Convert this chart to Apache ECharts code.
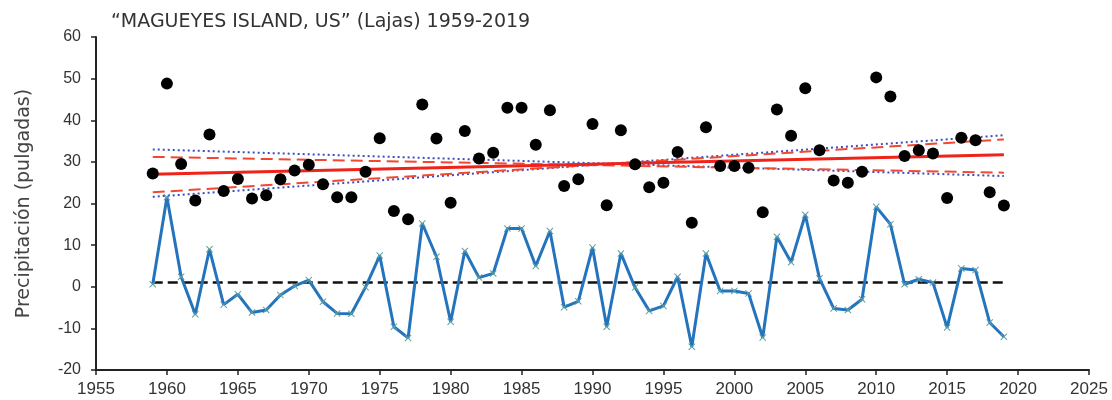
<!DOCTYPE html>
<html>
<head>
<meta charset="utf-8">
<script src="https://cdn.jsdelivr.net/npm/echarts@6/dist/echarts.min.js"></script>
<style>
  html, body { margin: 0; padding: 0; background: #fff; }
  #chart { width: 1112px; height: 400px; }
</style>
</head>
<body>
<div id="chart"></div>
<script>
// Annual precipitation, Magueyes Island (Lajas), 1959-2019
const years = [
  1959, 1960, 1961, 1962, 1963, 1964, 1965, 1966, 1967, 1968,
  1969, 1970, 1971, 1972, 1973, 1974, 1975, 1976, 1977, 1978,
  1979, 1980, 1981, 1982, 1983, 1984, 1985, 1986, 1987, 1988,
  1989, 1990, 1991, 1992, 1993, 1994, 1995, 1996, 1997, 1998,
  1999, 2000, 2001, 2002, 2003, 2004, 2005, 2006, 2007, 2008,
  2009, 2010, 2011, 2012, 2013, 2014, 2015, 2016, 2017, 2018, 2019
];

// Total precipitation (inches)
const precip = [
  27.2, 48.8, 29.5, 20.7, 36.6, 23.0, 25.9, 21.2, 22.0, 25.8,
  27.9, 29.3, 24.6, 21.5, 21.5, 27.6, 35.7, 18.2, 16.2, 43.8,
  35.6, 20.2, 37.4, 30.8, 32.2, 43.0, 43.0, 34.1, 42.4, 24.2,
  25.8, 39.1, 19.6, 37.6, 29.4, 23.9, 25.0, 32.4, 15.4, 38.3,
  29.0, 29.0, 28.6, 17.9, 42.6, 36.3, 47.7, 32.8, 25.5, 25.0,
  27.6, 50.3, 45.7, 31.4, 32.8, 32.0, 21.3, 35.8, 35.2, 22.7, 19.5
];

// Departure from the trend (inches)
const residual = [
  0.6, 21.5, 2.4, -6.6, 9.0, -4.3, -1.8, -6.2, -5.6, -2.0,
  0.2, 1.6, -3.6, -6.4, -6.5, -0.1, 7.5, -9.6, -12.3, 15.2,
  7.2, -8.4, 8.6, 2.2, 3.2, 14.0, 14.0, 5.0, 13.4, -4.9,
  -3.5, 9.4, -9.6, 8.0, -0.2, -5.8, -4.6, 2.4, -14.4, 8.0,
  -1.0, -1.0, -1.6, -12.2, 12.0, 5.9, 17.3, 2.0, -5.2, -5.6,
  -3.0, 19.2, 15.0, 0.6, 1.8, 1.0, -9.8, 4.4, 4.0, -8.6, -12.0
];

// Reference level of the departures
const residualMean = [1.0, 1.0];

// Linear trend and its bounds, values at the first and last year
const lineYears = [1959, 2019];
const trend = [27.0, 31.7];
const trendLowA = [31.2, 27.4];
const trendLowB = [22.7, 35.4];
const boundA = [33.0, 26.6];
const boundB = [21.6, 36.4];

// Axis settings
const xMin = 1955, xMax = 2025, xStep = 5;
const yMin = -20, yMax = 60, yStep = 10;

const titleText = '\u201CMAGUEYES ISLAND, US\u201D (Lajas) 1959-2019';
const yName = 'Precipitación (pulgadas)';

const pair = (xs, ys) => xs.map((x, i) => [x, ys[i]]);

const crossPath = 'path://M0,1L1,0L5,4L9,0L10,1L6,5L10,9L9,10L5,6L1,10L0,9L4,5Z';

const segment = (name, vals, color, width, type, z) => ({
  name: name,
  type: 'line',
  data: pair(lineYears, vals),
  symbol: 'none',
  silent: true,
  z: z,
  lineStyle: { color: color, width: width, type: type }
});

const chart = echarts.init(document.getElementById('chart'), null, { renderer: 'canvas' });

chart.setOption({
  animation: false,
  backgroundColor: '#ffffff',
  title: {
    text: titleText,
    left: 106,
    top: 8,
    textStyle: {
      fontFamily: 'DejaVu Sans, Liberation Sans, sans-serif',
      fontSize: 19,
      fontWeight: 'normal',
      color: '#333333'
    }
  },
  grid: { left: 96, right: 23, top: 37, bottom: 30, containLabel: false },
  xAxis: {
    type: 'value',
    min: xMin, max: xMax, interval: xStep,
    axisLine: { show: true, onZero: false, lineStyle: { color: '#222', width: 2 } },
    axisTick: { show: true, inside: false, length: 5, lineStyle: { color: '#222', width: 1.5 } },
    splitLine: { show: false },
    axisLabel: {
      margin: 11,
      fontFamily: 'Liberation Sans Narrow, Arial Narrow, Liberation Sans, sans-serif',
      fontSize: 17,
      color: '#333333',
      formatter: v => String(v)
    }
  },
  yAxis: {
    type: 'value',
    min: yMin, max: yMax, interval: yStep,
    name: yName,
    nameLocation: 'middle',
    nameGap: 62,
    nameTextStyle: {
      fontFamily: 'DejaVu Sans, Liberation Sans, sans-serif',
      fontSize: 19,
      color: '#444444'
    },
    axisLine: { show: true, onZero: false, lineStyle: { color: '#222', width: 2 } },
    axisTick: { show: true, inside: false, length: 5, lineStyle: { color: '#222', width: 1.5 } },
    splitLine: { show: false },
    axisLabel: {
      margin: 15,
      fontFamily: 'Liberation Sans, Arial, sans-serif',
      fontSize: 16,
      color: '#333333'
    }
  },
  series: [
    {
      name: 'Media residual',
      type: 'line',
      data: pair(lineYears, residualMean),
      symbol: 'none',
      silent: true,
      z: 3,
      lineStyle: { color: '#111', width: 2.5, type: [10, 5] }
    },
    {
      name: 'Residuo',
      type: 'line',
      data: pair(years, residual),
      symbol: crossPath,
      symbolSize: 7,
      showAllSymbol: true,
      z: 4,
      lineStyle: { color: '#2474bd', width: 3 },
      itemStyle: { color: '#5c9ea0' }
    },
    segment('Límite A', boundA, '#3b4fc0', 2, [2, 3], 5),
    segment('Límite B', boundB, '#3b4fc0', 2, [2, 3], 5),
    segment('Confianza A', trendLowA, '#f2482f', 2, [12, 6], 6),
    segment('Confianza B', trendLowB, '#f2482f', 2, [12, 6], 6),
    segment('Tendencia', trend, '#f0231a', 3, 'solid', 7),
    {
      name: 'Precipitación',
      type: 'scatter',
      data: pair(years, precip),
      symbol: 'circle',
      symbolSize: 12,
      z: 10,
      itemStyle: { color: '#000000', opacity: 1 }
    }
  ]
});
</script>
</body>
</html>
